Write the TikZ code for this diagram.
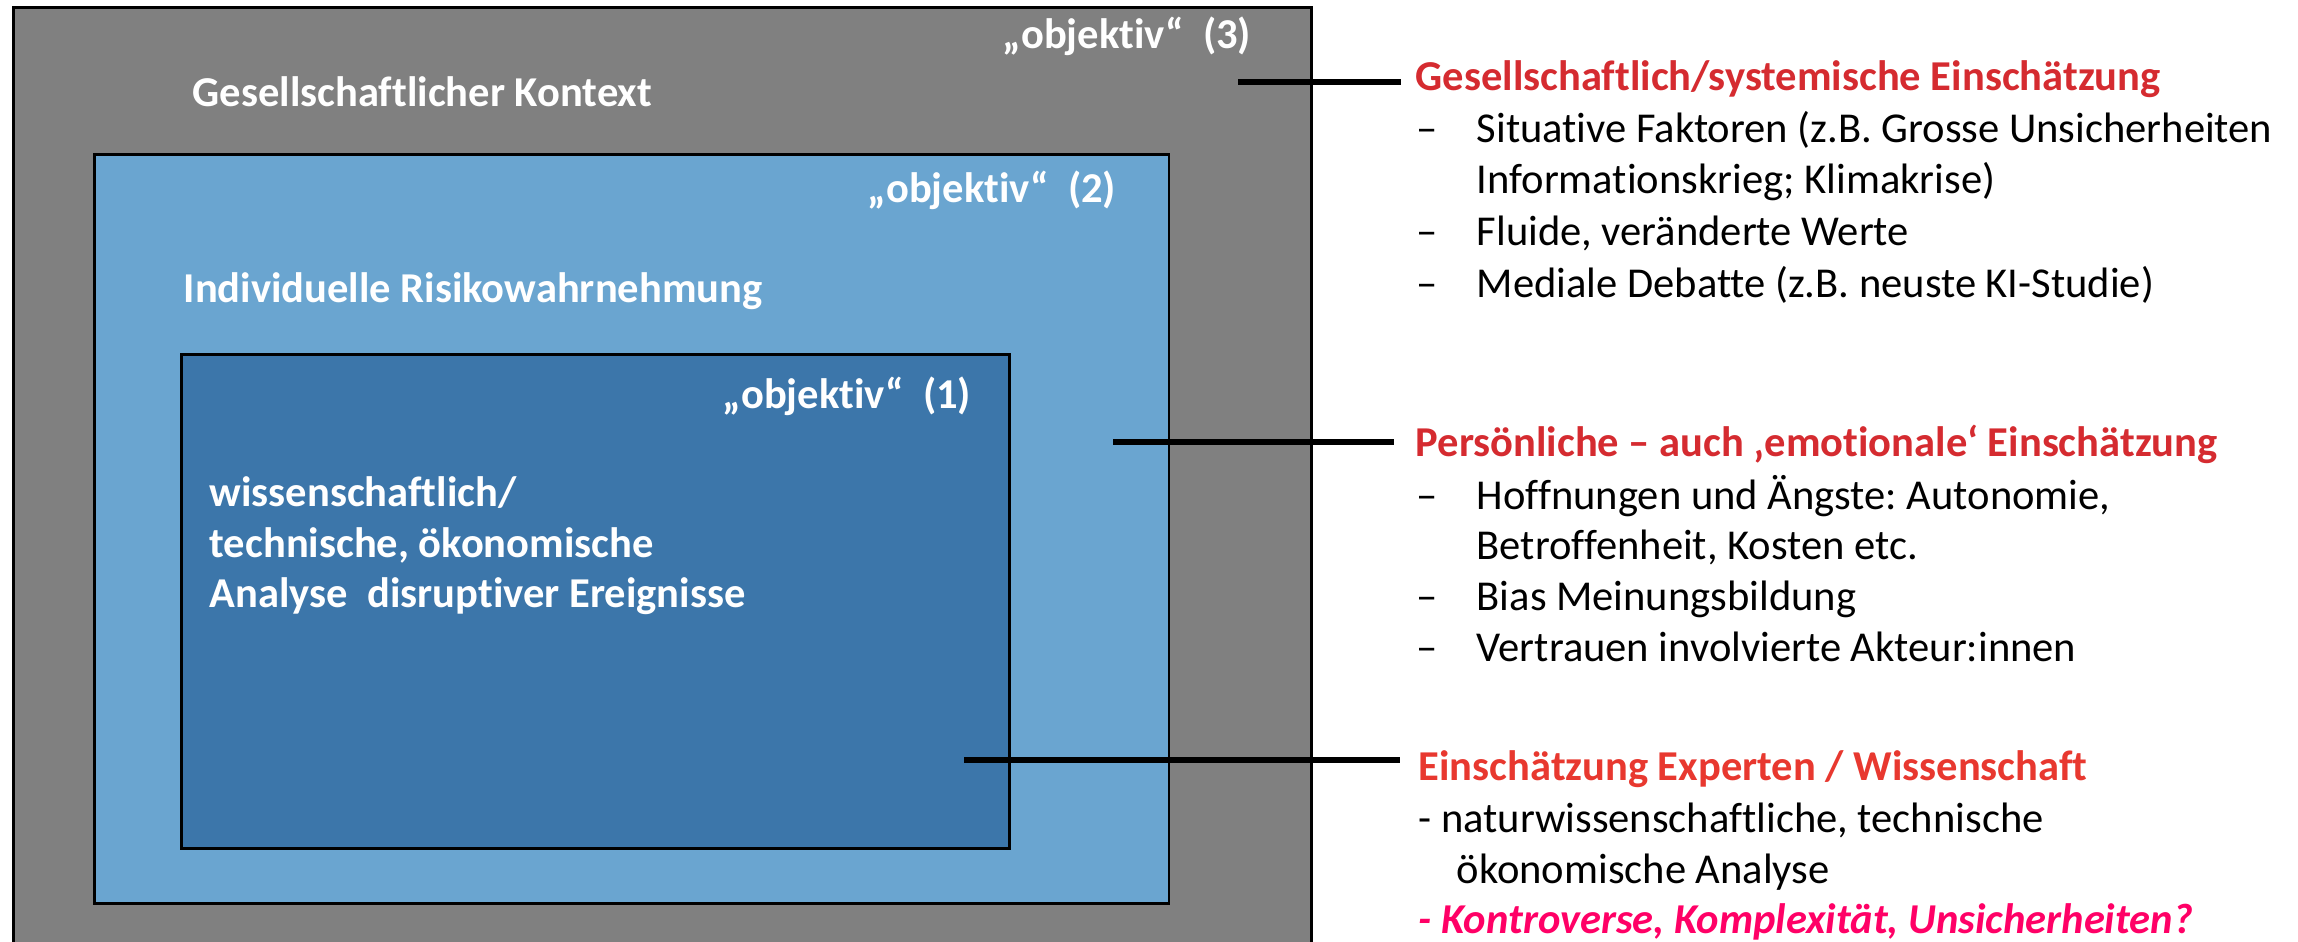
\documentclass[tikz,border=0pt]{standalone}
\usepackage{fontspec}
\setmainfont{Carlito}[Ligatures={TeX,NoCommon}]
\frenchspacing
\definecolor{outergray}{HTML}{808080}
\definecolor{lightblue}{HTML}{6AA5D0}
\definecolor{darkblue}{HTML}{3C76AA}
\definecolor{titlered}{HTML}{D52B30}
\definecolor{titleorange}{HTML}{E8382F}
\definecolor{magentared}{HTML}{FF0066}
\newcommand{\fsz}{\fontsize{12.1}{14.5}\selectfont}
\begin{document}
\begin{tikzpicture}[x=0.01cm,y=-0.01cm,
  box/.style={draw=black,line width=0.8pt,anchor=north west,inner sep=0pt},
  inlbl/.style={text=white,font=\bfseries\fsz,anchor=base west,inner sep=0pt},
  ttl/.style={font=\bfseries\fsz,anchor=base west,inner sep=0pt},
  itm/.style={text=black,font=\fsz,anchor=base west,inner sep=0pt},
  conn/.style={line width=0.06cm,black}]
\useasboundingbox (0,0) rectangle (2298,941);
\clip (0,0) rectangle (2298,941);
\fill[white] (0,0) rectangle (2298,941);
% boxes
\node[box,fill=outergray,minimum width=12.97cm,minimum height=9.6cm] (outer) at (12,6) {};
\node[box,fill=lightblue,minimum width=10.74cm,minimum height=7.49cm] (mid) at (93,153) {};
\node[box,fill=darkblue,minimum width=8.28cm,minimum height=4.94cm] (inner) at (180,353) {};
% labels in boxes
\node[inlbl] (o3) at (1002,48) {„objektiv“\ \ (3)};
\node[inlbl] (gk) at (192,106) {Gesellschaftlicher Kontext};
\node[inlbl] (o2) at (867,202) {„objektiv“\ \ (2)};
\node[inlbl] (ir) at (183,302) {Individuelle Risikowahrnehmung};
\node[inlbl] (o1) at (722,408) {„objektiv“\ \ (1)};
\node[inlbl] (w1) at (209,506) {wissenschaftlich/};
\node[inlbl] (w2) at (209,557) {technische, ökonomische};
\node[inlbl] (w3) at (209,607) {Analyse\ \ disruptiver Ereignisse};
% right: block 1
\node[ttl,text=titlered] (t1) at (1415,90) {Gesellschaftlich/systemische Einschätzung};
\node[itm] (d11) at (1416,142) {–};
\node[itm] (i11) at (1476,142) {Situative Faktoren (z.B. Grosse Unsicherheiten};
\node[itm] (i12) at (1476,193) {Informationskrieg; Klimakrise)};
\node[itm] (d12) at (1416,245) {–};
\node[itm] (i13) at (1476,245) {Fluide, veränderte Werte};
\node[itm] (d13) at (1416,297) {–};
\node[itm] (i14) at (1476,297) {Mediale Debatte (z.B. neuste KI-Studie)};
% right: block 2
\node[ttl,text=titlered] (t2) at (1415,456) {Persönliche – auch ‚emotionale‘ Einschätzung};
\node[itm] (d21) at (1416,509) {–};
\node[itm] (i21) at (1476,509) {Hoffnungen und Ängste: Autonomie,};
\node[itm] (i22) at (1476,559) {Betroffenheit, Kosten etc.};
\node[itm] (d22) at (1416,610) {–};
\node[itm] (i23) at (1476,610) {Bias Meinungsbildung};
\node[itm] (d23) at (1416,661) {–};
\node[itm] (i24) at (1476,661) {Vertrauen involvierte Akteur:innen};
% right: block 3
\node[ttl,text=titleorange] (t3) at (1418,780) {Einschätzung Experten / Wissenschaft};
\node[itm] (i31) at (1418,832) {- naturwissenschaftliche, technische};
\node[itm] (i32) at (1456,883) {ökonomische Analyse};
\node[ttl,text=magentared,font=\bfseries\itshape\fsz] (i33) at (1418,933) {- Kontroverse, Komplexität, Unsicherheiten?};
% connectors
\coordinate (c1) at (1238,82);
\coordinate (c2) at (1113,442);
\coordinate (c3) at (964,760);
\coordinate (e1) at (1401,82);
\coordinate (e2) at (1394,442);
\coordinate (e3) at (1400,760);
\draw[conn] (c1) -- (e1);
\draw[conn] (c2) -- (e2);
\draw[conn] (c3) -- (e3);
\end{tikzpicture}
\end{document}
